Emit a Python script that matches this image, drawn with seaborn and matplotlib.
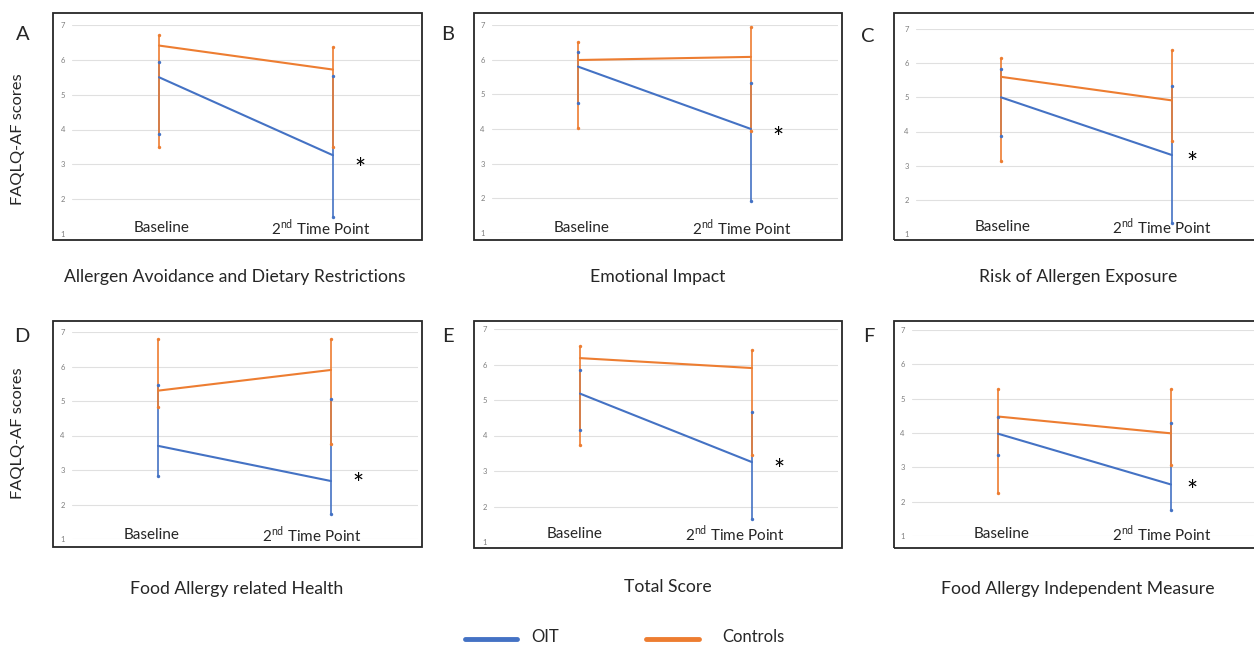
import numpy as np
import pandas as pd
import seaborn as sns
import matplotlib.pyplot as plt
from matplotlib.patches import Rectangle
from matplotlib.lines import Line2D

# ---- data ----
timepoints = [0, 1]
cat_labels = ["Baseline", "2$^{\\mathrm{nd}}$ Time Point"]
panel_letters = ["A", "B", "C", "D", "E", "F"]
panel_titles = ["Allergen Avoidance and Dietary Restrictions", "Emotional Impact",
                "Risk of Allergen Exposure", "Food Allergy related Health",
                "Total Score", "Food Allergy Independent Measure"]

oit_mean = [[5.50, 3.26], [5.80, 4.00], [5.00, 3.31], [3.70, 2.68], [5.18, 3.25], [3.98, 2.50]]
oit_low = [[3.88, 1.49], [4.75, 1.92], [3.87, 1.33], [2.84, 1.73], [4.15, 1.64], [3.35, 1.76]]
oit_high = [[5.94, 5.54], [6.21, 5.33], [5.83, 5.34], [5.45, 5.07], [5.85, 4.66], [4.46, 4.29]]

ctrl_mean = [[6.41, 5.72], [5.99, 6.08], [5.60, 4.91], [5.30, 5.90], [6.18, 5.90], [4.48, 3.99]]
ctrl_low = [[3.51, 3.49], [4.02, 3.93], [3.13, 3.73], [4.84, 3.76], [3.74, 3.44], [2.25, 3.07]]
ctrl_high = [[6.70, 6.36], [6.50, 6.93], [6.14, 6.40], [6.79, 6.79], [6.52, 6.41], [5.27, 5.27]]

BLUE = "#4472C4"
ORANGE = "#ED7D31"

sns.set_style("white")
plt.rcParams["font.family"] = ["Lato", "DejaVu Sans"]
plt.rcParams["mathtext.fontset"] = "custom"
plt.rcParams["mathtext.rm"] = "Lato"

W, H = 1254, 647
fig = plt.figure(figsize=(W / 100, H / 100), dpi=100)


def fx(x):
    return x / W


def fy(y):
    return 1 - y / H


# per panel: plot area (x0, x1, y at 7, y at 1), box (x0, y0, x1, y1),
# letter pos, title pos, category label x's and y, asterisk (data x, y)
layout = [
    dict(plot=(72, 420, 25, 234), box=(53, 13, 422, 240), letter=(23, 35), title=(235, 277),
         cats=(162, 321, 228), star=(1.155, 2.99)),
    dict(plot=(491.5, 837.5, 25, 233), box=(474, 13, 842, 240), letter=(448, 35), title=(658, 277),
         cats=(582, 742, 228), star=(1.155, 3.87)),
    dict(plot=(915.5, 1257.5, 29, 234), box=(894, 13, 1256, 240), letter=(868, 36), title=(1078, 277),
         cats=(1003, 1162, 227), star=(1.115, 3.22)),
    dict(plot=(71.5, 417.5, 332, 539), box=(53, 321, 422, 547), letter=(22, 337), title=(237, 589),
         cats=(152, 312, 535), star=(1.155, 2.73)),
    dict(plot=(494, 838, 329, 542), box=(474, 321, 842, 548), letter=(448, 337), title=(668, 587),
         cats=(575, 735, 534), star=(1.155, 3.16)),
    dict(plot=(911.5, 1257.5, 330, 536), box=(894, 321, 1256, 548), letter=(869, 337), title=(1078, 589),
         cats=(1002, 1162, 534), star=(1.12, 2.45)),
]

for i, lay in enumerate(layout):
    x0, x1, yt, yb = lay["plot"]
    ax = fig.add_axes([fx(x0), fy(yb), (x1 - x0) / W, (yb - yt) / H])
    ax.set_xlim(-0.5, 1.5)
    ax.set_ylim(1, 7)
    ax.set_yticks(range(1, 8))
    ax.set_xticks([])
    ax.grid(axis="y", color="#E0E0E0", linewidth=0.8)
    ax.set_axisbelow(True)
    for s in ax.spines.values():
        s.set_visible(False)
    ax.tick_params(axis="y", labelsize=5.5, labelcolor="#7F7F7F", length=0, pad=5)

    # error bars
    ax.vlines(timepoints, oit_low[i], oit_high[i], color=BLUE, linewidth=1.2, zorder=2)
    ax.vlines(timepoints, ctrl_low[i], ctrl_high[i], color=ORANGE, linewidth=1.2, zorder=2)

    df = pd.DataFrame({
        "time": timepoints * 2,
        "score": oit_mean[i] + ctrl_mean[i],
        "group": ["OIT"] * 2 + ["Controls"] * 2,
    })
    sns.lineplot(data=df, x="time", y="score", hue="group",
                 palette={"OIT": BLUE, "Controls": ORANGE}, hue_order=["Controls", "OIT"],
                 linewidth=1.5, legend=False, ax=ax, zorder=3)
    ax.set_xlabel("")
    ax.set_ylabel("")

    # end dots
    ax.scatter(timepoints * 2, ctrl_low[i] + ctrl_high[i], s=6, color=ORANGE, zorder=4, linewidths=0)
    ax.scatter(timepoints * 2, oit_low[i] + oit_high[i], s=6, color=BLUE, zorder=4, linewidths=0)

    ax.text(lay["star"][0], lay["star"][1] - 0.18, "*", fontsize=19, ha="center", va="center",
            color="black")

    cx0, cx1, cy = lay["cats"]
    fig.text(fx(cx0), fy(cy), cat_labels[0], fontsize=11, ha="center", va="center")
    fig.text(fx(cx1), fy(cy), cat_labels[1], fontsize=11, ha="center", va="center")

    bx0, by0, bx1, by1 = lay["box"]
    fig.add_artist(Rectangle((fx(bx0), fy(by1)), (bx1 - bx0) / W, (by1 - by0) / H,
                             fill=False, edgecolor="#262626", linewidth=1.3,
                             transform=fig.transFigure))

    fig.text(fx(lay["letter"][0]), fy(lay["letter"][1]), panel_letters[i], fontsize=14.5,
             ha="center", va="center")
    fig.text(fx(lay["title"][0]), fy(lay["title"][1]), panel_titles[i], fontsize=12.7,
             ha="center", va="center")

# y labels
fig.text(fx(18), fy(139), "FAQLQ-AF scores", rotation=90, fontsize=11.8, ha="center", va="center")
fig.text(fx(18), fy(433), "FAQLQ-AF scores", rotation=90, fontsize=11.8, ha="center", va="center")

# legend
fig.add_artist(Line2D([fx(465), fx(517)], [fy(639), fy(639)], color=BLUE, linewidth=3.5,
                      transform=fig.transFigure))
fig.text(fx(531), fy(637), "OIT", fontsize=12, ha="left", va="center")
fig.add_artist(Line2D([fx(646), fx(699)], [fy(639), fy(639)], color=ORANGE, linewidth=3.5,
                      transform=fig.transFigure))
fig.text(fx(722), fy(637), "Controls", fontsize=12, ha="left", va="center")

fig.savefig("out.png", dpi=100, facecolor="white")
